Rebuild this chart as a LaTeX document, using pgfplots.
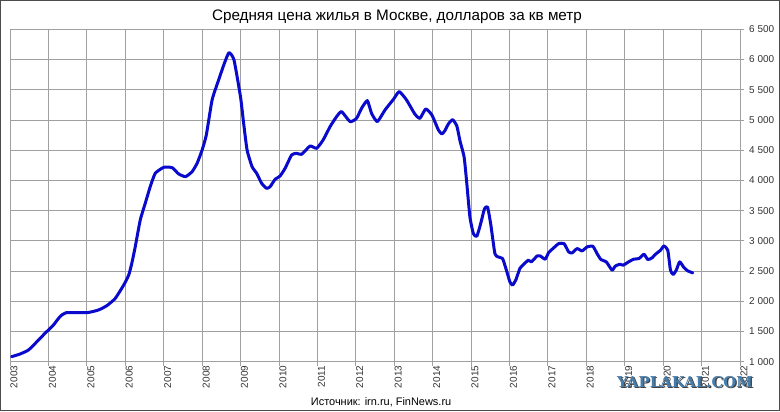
\documentclass[border=0pt]{standalone}
\usepackage{fontspec}
\setmainfont{Liberation Sans}
\newfontfamily\wmfont{DejaVu Serif}
\usepackage{pgfplots}
\pgfplotsset{compat=1.18}
\definecolor{lineblue}{RGB}{10,10,205}
\definecolor{majgrid}{RGB}{160,160,160}
\definecolor{mingrid}{RGB}{218,218,218}
\definecolor{wmblue}{RGB}{70,125,170}
\pgfplotstableread{
x y
2003.04 1083
2003.26 1127
2003.48 1193
2003.70 1331
2003.91 1469
2004.13 1607
2004.30 1745
2004.46 1811
2005.00 1811
2005.30 1855
2005.52 1927
2005.74 2048
2005.96 2269
2006.09 2434
2006.17 2627
2006.26 2903
2006.39 3345
2006.52 3621
2006.65 3896
2006.78 4117
2007.00 4216
2007.22 4211
2007.39 4106
2007.57 4062
2007.74 4145
2007.87 4283
2008.00 4503
2008.11 4752
2008.26 5331
2008.43 5662
2008.58 5938
2008.70 6114
2008.83 5993
2009.00 5380
2009.08 4950
2009.17 4503
2009.30 4227
2009.42 4117
2009.55 3951
2009.68 3869
2009.77 3896
2009.90 4018
2010.03 4073
2010.16 4200
2010.33 4421
2010.46 4448
2010.59 4431
2010.81 4569
2010.98 4531
2011.15 4669
2011.33 4889
2011.50 5055
2011.63 5138
2011.85 4972
2012.02 5027
2012.15 5193
2012.30 5320
2012.41 5110
2012.56 4972
2012.76 5165
2012.98 5342
2013.13 5469
2013.32 5331
2013.54 5094
2013.67 5027
2013.82 5182
2013.98 5083
2014.15 4834
2014.24 4768
2014.32 4824
2014.41 4934
2014.52 5005
2014.63 4900
2014.71 4659
2014.82 4384
2014.89 3944
2014.97 3394
2015.06 3119
2015.15 3075
2015.25 3284
2015.35 3531
2015.43 3559
2015.51 3284
2015.62 2789
2015.70 2734
2015.82 2707
2015.92 2514
2016.01 2322
2016.08 2267
2016.17 2360
2016.27 2542
2016.37 2613
2016.49 2679
2016.57 2652
2016.72 2750
2016.80 2750
2016.93 2696
2017.02 2806
2017.15 2883
2017.28 2954
2017.42 2954
2017.54 2817
2017.63 2800
2017.76 2872
2017.89 2833
2018.02 2899
2018.17 2910
2018.28 2789
2018.38 2690
2018.52 2652
2018.67 2514
2018.75 2580
2018.87 2613
2018.96 2597
2019.10 2652
2019.23 2696
2019.37 2707
2019.50 2778
2019.60 2690
2019.71 2718
2019.80 2778
2019.93 2844
2020.02 2916
2020.12 2844
2020.19 2514
2020.26 2443
2020.34 2514
2020.43 2652
2020.54 2558
2020.64 2503
2020.77 2470
}\pricedata
\begin{document}
\begin{tikzpicture}[x=1bp,y=1bp]
\useasboundingbox (0,0) rectangle (780,411);
\fill[white] (0,0) rectangle (780,411);
\draw[line width=1.5bp, color=black!70] (0.75,0.75) rectangle (779.25,410.25);
\begin{axis}[
  at={(10bp,49.3bp)}, anchor=south west,
  scale only axis, width=730bp, height=332.4bp,
  xmin=2003, xmax=2022, ymin=1000, ymax=6500,
  xtick={2003,2004,...,2022},
  minor x tick num=3,
  ytick={1000,1500,...,6500},
  yticklabels={1 000,1 500,2 000,2 500,3 000,3 500,4 000,4 500,5 000,5 500,6 000,6 500},
  /pgf/number format/.cd, 1000 sep={}, assume math mode=true, /pgfplots/.cd,
  xtick pos=bottom, ytick pos=right, yticklabel pos=right,
  tick align=outside,
  major tick length=4bp, minor tick length=0bp,
  tick style={majgrid, line width=0.8bp},
  grid=both,
  major grid style={majgrid, line width=0.8bp},
  minor grid style={mingrid, line width=0.8bp},
  axis line style={majgrid, line width=0.8bp},
  xticklabel style={rotate=90, anchor=east, inner sep=0pt, yshift=-4bp, font=\fontsize{10}{12}\selectfont, text=black!80},
  yticklabel style={anchor=west, inner sep=0pt, xshift=5bp, font=\fontsize{10}{12}\selectfont, text=black!80},
]
\addplot[lineblue, line width=3bp, line join=round, line cap=round, smooth, tension=0.3] table[x=x,y=y] {\pricedata};
\end{axis}
\node[anchor=base, inner sep=0pt, font=\fontsize{15.3}{17}\selectfont] at (397,390.3) {Средняя цена жилья в Москве, долларов за кв метр};
\node[anchor=base west, inner sep=0pt, font=\fontsize{11}{13}\selectfont] at (310.7,6) {Источник: irn.ru, FinNews.ru};
\node[anchor=base west, inner sep=0pt, font=\fontsize{15}{15}\wmfont\bfseries, text=black!75] at (618.2,22.8) {YAPLAKAL.COM};
\node[anchor=base west, inner sep=0pt, font=\fontsize{15}{15}\wmfont\bfseries, text=wmblue] at (617,24) {YAPLAKAL.COM};
\end{tikzpicture}
\end{document}
